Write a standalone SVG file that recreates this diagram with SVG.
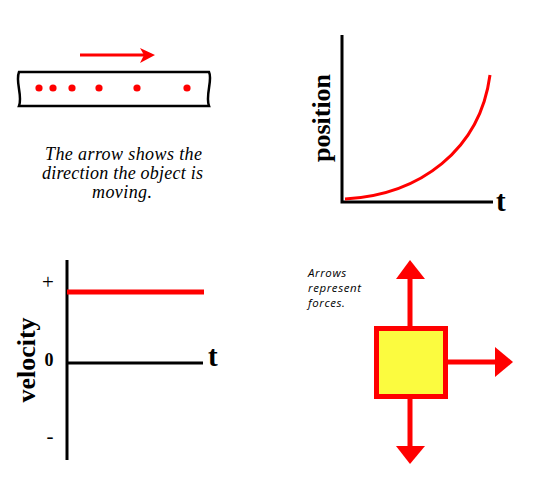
<svg xmlns="http://www.w3.org/2000/svg" width="537" height="478" viewBox="0 0 537 478">
<style>
.axis{stroke:#000;stroke-width:3;fill:none}
.red{stroke:#f00;fill:none}
.lbl{font-family:"Liberation Serif",serif;font-weight:bold;fill:#000}
.note{font-family:"Liberation Serif",serif;font-style:italic;font-size:18px;fill:#000}
.small{font-family:"Open Sans","Liberation Sans",sans-serif;font-style:italic;font-size:11.5px;letter-spacing:0.6px;fill:#000}
.tick{font-family:"Liberation Serif",serif;font-size:21px;fill:#000}
</style>
<g id="tape">
<path d="M80,55 L144,55" stroke="#f00" stroke-width="3"/>
<path d="M140,48 L155,55 L140,63 L144,55 z" fill="#f00"/>
<path d="M19,72 L209,72 C213,80 205,95 209,106 L19,106 C23,96 15,82 19,72 Z" fill="#fff" stroke="#000" stroke-width="2.5"/>
<g fill="#f00">
<circle cx="39" cy="88" r="3.6"/><circle cx="53" cy="88" r="3.6"/><circle cx="72" cy="88" r="3.6"/>
<circle cx="99" cy="88" r="3.6"/><circle cx="137" cy="88" r="3.6"/><circle cx="187" cy="88" r="3.6"/>
</g>
<text class="note"><tspan x="45" y="160" textLength="157" lengthAdjust="spacing">The arrow shows the</tspan><tspan x="42" y="179" textLength="161" lengthAdjust="spacing">direction the object is</tspan><tspan x="92" y="198" textLength="60" lengthAdjust="spacing">moving.</tspan></text>
</g>
<g id="position-graph">
<path class="axis" d="M342,35 L342,202 L493,202"/>
<path class="red" stroke-width="3" d="M345,199 C420,195 480,150 490,75"/>
<text class="lbl" font-size="29" x="496" y="211">t</text>
<text class="lbl" font-size="26" text-anchor="middle" transform="translate(330,118) rotate(-90)">position</text>
</g>
<g id="velocity-graph">
<path class="axis" d="M67,260 L67,460"/>
<path class="axis" d="M67,363 L203,363"/>
<path d="M67,292 L204,292" stroke="#f00" stroke-width="5"/>
<text class="tick" x="48" y="289" text-anchor="middle">+</text>
<text class="lbl" font-size="18" x="49" y="366" text-anchor="middle">0</text>
<text class="tick" x="50" y="443" text-anchor="middle">-</text>
<text class="lbl" font-size="29" x="208" y="366">t</text>
<text class="lbl" font-size="26" text-anchor="middle" transform="translate(35,360) rotate(-90)">velocity</text>
</g>
<g id="forces">
<text class="small"><tspan x="308" y="277">Arrows</tspan><tspan x="308" y="292">represent</tspan><tspan x="308" y="307">forces.</tspan></text>
<g fill="#f00">
<rect x="407.5" y="276" width="5" height="52"/>
<path d="M396,279 L410,260 L425,279 z"/>
<rect x="407.5" y="397" width="5" height="52"/>
<path d="M396,446 L410,464 L425,446 z"/>
<rect x="446" y="359.5" width="52" height="5"/>
<path d="M495,347 L513,362 L495,377 z"/>
</g>
<rect x="376.5" y="328.5" width="69" height="68" fill="#fbfb3f" stroke="#f00" stroke-width="5"/>
</g>
</svg>
